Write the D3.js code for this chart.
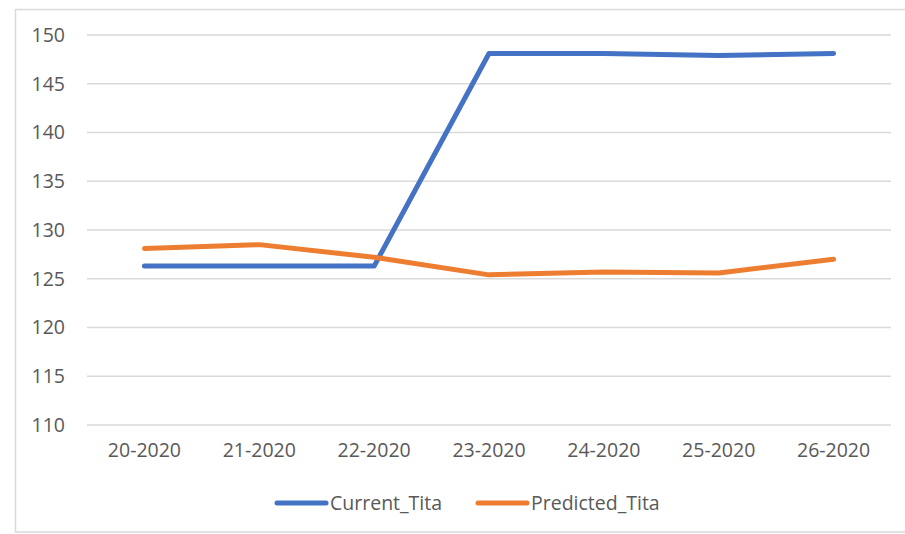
<!DOCTYPE html>
<html>
<head>
<meta charset="utf-8">
<script src="https://cdn.jsdelivr.net/npm/d3@7"></script>
<style>
  html, body { margin: 0; padding: 0; background: #fff; }
  svg { display: block; }
  text { font-family: "Open Sans", sans-serif; fill: #595959; }
</style>
</head>
<body>
<svg id="chart" width="905" height="534"></svg>
<script>
const categories = ["20-2020", "21-2020", "22-2020", "23-2020", "24-2020", "25-2020", "26-2020"];
const currentTita = [126.3, 126.3, 126.3, 148.1, 148.1, 147.9, 148.1];
const predictedTita = [128.1, 128.5, 127.2, 125.4, 125.7, 125.6, 127.0];
const yTicks = [110, 115, 120, 125, 130, 135, 140, 145, 150];
const seriesNames = ["Current_Tita", "Predicted_Tita"];
const seriesColors = ["#4472C4", "#ED7D31"];

const svg = d3.select("#chart");
const FS = 19.5;

// outer frame
svg.append("rect")
  .attr("x", 15.5).attr("y", 9.5)
  .attr("width", 900).attr("height", 522.5)
  .attr("fill", "#fff").attr("stroke", "#d9d9d9").attr("stroke-width", 1.5);

const plot = { left: 87, right: 891, top: 35, bottom: 425 };

const x = d3.scaleBand().domain(categories).range([plot.left, plot.right]).padding(0);
const y = d3.scaleLinear().domain([110, 150]).range([plot.bottom, plot.top]);

// gridlines
svg.append("g").selectAll("line").data(yTicks).join("line")
  .attr("x1", plot.left).attr("x2", plot.right)
  .attr("y1", d => y(d)).attr("y2", d => y(d))
  .attr("stroke", "#d9d9d9").attr("stroke-width", 1.5);

// y axis labels
const yAxis = d3.axisLeft(y).tickValues(yTicks).tickSize(0).tickPadding(0);
const gy = svg.append("g").attr("transform", `translate(65,0)`).call(yAxis);
gy.select(".domain").remove();
gy.selectAll("text").attr("font-size", FS).attr("fill", "#595959")
  .style("font-family", "'Open Sans', sans-serif");

// x axis labels
const xAxis = d3.axisBottom(x).tickSize(0).tickPadding(0);
const gx = svg.append("g").attr("transform", `translate(0,443)`).call(xAxis);
gx.select(".domain").remove();
gx.selectAll("text").attr("font-size", FS).attr("fill", "#595959")
  .style("font-family", "'Open Sans', sans-serif");

// lines
const line = d3.line().x((d, i) => x(categories[i]) + x.bandwidth() / 2).y(d => y(d));
[currentTita, predictedTita].forEach((s, k) => {
  svg.append("path").datum(s)
    .attr("d", line)
    .attr("fill", "none")
    .attr("stroke", seriesColors[k])
    .attr("stroke-width", 5)
    .attr("stroke-linecap", "round")
    .attr("stroke-linejoin", "round");
});

// legend
const legendItems = [
  { name: seriesNames[0], color: seriesColors[0], x1: 277, x2: 326, tx: 330 },
  { name: seriesNames[1], color: seriesColors[1], x1: 478, x2: 527, tx: 531 }
];
const lg = svg.append("g");
legendItems.forEach(it => {
  lg.append("line").attr("x1", it.x1).attr("x2", it.x2).attr("y1", 503).attr("y2", 503)
    .attr("stroke", it.color).attr("stroke-width", 5).attr("stroke-linecap", "round");
  lg.append("text").attr("x", it.tx).attr("y", 503).attr("dy", "0.35em")
    .attr("font-size", FS).text(it.name);
});
</script>
</body>
</html>
